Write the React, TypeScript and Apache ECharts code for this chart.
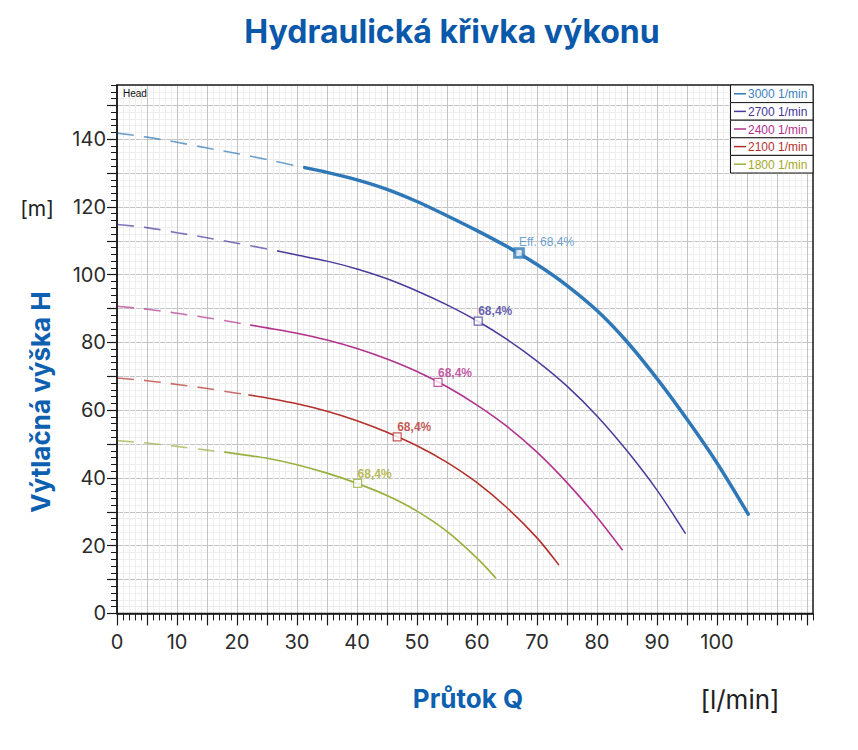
import React, { useEffect, useRef } from 'react';
import * as echarts from 'echarts';

// ---- data ----
const speedNames = ['3000 1/min', '2700 1/min', '2400 1/min', '2100 1/min', '1800 1/min'];
const speedColors = ['#2f78b7', '#4a3a9c', '#b2338c', '#b3302b', '#98b13e'];
const legendTextColors = ['#3a7fc0', '#3f3596', '#b3308e', '#b5302c', '#a6a82a'];
const lineWidths = [3.5, 1.5, 1.6, 1.6, 1.7];

const q3000 = [0, 5, 10, 15, 20, 25, 30, 31.3, 35, 40, 45, 50, 55, 60, 65, 70, 75, 80, 85, 90, 95, 100, 105.2];
const h3000 = [141.8, 140.6, 139.1, 137.4, 135.8, 134.0, 132.1, 131.6, 130.2, 128.0, 125.2, 121.6, 117.4, 113.0, 108.3, 103.0, 96.8, 89.4, 80.2, 69.3, 57.3, 44.4, 29.3];

const q2700 = [0, 5, 10, 15, 20, 25, 26.8, 30, 35, 40, 45, 50, 55, 60, 65, 70, 75, 80, 85, 90, 94.7];
const h2700 = [114.8, 113.9, 112.4, 110.9, 109.3, 107.6, 107.0, 105.8, 104.0, 101.7, 98.8, 95.2, 91.1, 86.4, 80.9, 74.5, 67.1, 58.3, 48.0, 36.4, 23.7];

const q2400 = [0, 5, 10, 15, 20, 22.3, 25, 30, 35, 40, 45, 50, 55, 60, 65, 70, 75, 80, 84.2];
const h2400 = [90.7, 89.8, 88.6, 87.3, 85.8, 85.1, 84.3, 82.7, 80.7, 78.2, 75.1, 71.4, 66.9, 61.5, 55.2, 47.6, 38.6, 28.4, 18.8];

const q2100 = [0, 5, 10, 15, 20, 22, 25, 30, 35, 40, 45, 50, 55, 60, 65, 70, 73.6];
const h2100 = [69.5, 68.7, 67.6, 66.4, 65.0, 64.5, 63.6, 61.9, 59.7, 56.9, 53.5, 49.5, 44.6, 38.6, 31.2, 22.3, 14.4];

const q1800 = [0, 5, 10, 15, 18, 20, 25, 30, 35, 40, 45, 50, 55, 60, 63.1];
const h1800 = [51.0, 50.3, 49.3, 48.2, 47.6, 47.1, 45.8, 43.9, 41.4, 38.4, 34.8, 30.2, 24.2, 16.3, 10.5];

// Q where the dashed (extrapolated) part ends
const dashEnds = [31.3, 26.8, 22.3, 22, 18];

const effQ = [67.0, 60.2, 53.5, 46.7, 40.1];
const effH = [106.4, 86.3, 68.2, 52.1, 38.4];
const effLabels = ['Eff. 68,4%', '68,4%', '68,4%', '68,4%', '68,4%'];

const xMajorTicks = [0, 5, 10, 15, 20, 25, 30, 35, 40, 45, 50, 55, 60, 65, 70, 75, 80, 85, 90, 95, 100, 105, 110, 115];
const xTickLabels = [0, 10, 20, 30, 40, 50, 60, 70, 80, 90, 100];
const yMajorTicks = [0, 10, 20, 30, 40, 50, 60, 70, 80, 90, 100, 110, 120, 130, 140, 150];
const yTickLabels = [0, 20, 40, 60, 80, 100, 120, 140];

const titleText = 'Hydraulická křivka výkonu';
const yName = 'Výtlačná výška H';
const yUnit = '[m]';
const xName = 'Průtok Q';
const xUnit = '[l/min]';
const headText = 'Head';

const curveQ = [q3000, q2700, q2400, q2100, q1800];
const curveH = [h3000, h2700, h2400, h2100, h1800];

const X_MAX = 116;
const Y_MAX = 156;

export default function App() {
  const ref = useRef<HTMLDivElement>(null);

  useEffect(() => {
    if (!ref.current) return;
    const chart = echarts.init(ref.current, null, { renderer: 'svg' });

    const gridLeft = 117;
    const gridTop = 85;
    const gridW = 696;
    const gridH = 528.4;

    const series: any[] = [];
    speedNames.forEach((name, i) => {
      const qs = curveQ[i];
      const hs = curveH[i];
      const pts = qs.map((q, k) => [q, hs[k]]);
      const dashed = pts.filter((p) => p[0] <= dashEnds[i]);
      const solid = pts.filter((p) => p[0] >= dashEnds[i]);
      series.push({
        type: 'line',
        name: name + ' dashed',
        data: dashed,
        smooth: 0.3,
        showSymbol: false,
        symbol: 'none',
        silent: true,
        z: 2,
        lineStyle: { color: speedColors[i], width: 1.6, type: [17, 10], opacity: 0.7 },
      });
      series.push({
        type: 'line',
        name: name,
        data: solid,
        smooth: 0.3,
        showSymbol: false,
        symbol: 'none',
        silent: true,
        z: 3,
        lineStyle: { color: speedColors[i], width: lineWidths[i], type: 'solid', cap: 'round' },
      });
      series.push({
        type: 'scatter',
        name: name + ' eff',
        data: [[effQ[i], effH[i]]],
        symbol: 'rect',
        symbolSize: i === 0 ? 8.5 : 8,
        silent: true,
        z: 5,
        itemStyle: {
          color: '#ffffff',
          borderColor: speedColors[i],
          borderWidth: i === 0 ? 3.2 : 1.2,
        },
        label: {
          show: true,
          formatter: effLabels[i],
          position: 'top',
          align: 'left',
          distance: -1,
          color: i === 0 ? '#4a8ac6' : legendTextColors[i],
          fontSize: 12,
          fontWeight: i === 0 ? 'normal' : 'bold',
          fontFamily: 'Liberation Sans, Arial, sans-serif',
        },
      });
    });

    const legendGraphics: any[] = [];
    const lgX = 730.5;
    const lgY = 85;
    const rowH = 17.6;
    const lgW = 82.5;
    speedNames.forEach((name, i) => {
      const y0 = lgY + i * rowH;
      legendGraphics.push({
        type: 'rect',
        silent: true,
        z: 110,
        shape: { x: lgX, y: y0, width: lgW, height: rowH },
        style: { fill: '#ffffff', stroke: '#1a1a1a', lineWidth: 1 },
      });
      legendGraphics.push({
        type: 'line',
        silent: true,
        z: 111,
        shape: { x1: lgX + 3.5, y1: y0 + rowH / 2, x2: lgX + 15.5, y2: y0 + rowH / 2 },
        style: { stroke: speedColors[i], lineWidth: 1.5 },
      });
      legendGraphics.push({
        type: 'text',
        silent: true,
        z: 111,
        x: lgX + 17.5,
        y: y0 + rowH / 2 + 0.5,
        style: {
          text: name,
          fill: legendTextColors[i],
          fontSize: 12,
          fontFamily: 'Liberation Sans, Arial, sans-serif',
          align: 'left',
          verticalAlign: 'middle',
        },
      });
    });

    const option: any = {
      animation: false,
      grid: { left: gridLeft, top: gridTop, width: gridW, height: gridH, containLabel: false },
      xAxis: [
        {
          type: 'value',
          min: 0,
          max: X_MAX,
          interval: 1,
          position: 'bottom',
          axisLine: { show: true, onZero: false, lineStyle: { color: '#1a1a1a', width: 1.5 } },
          axisTick: { show: true, length: 7, lineStyle: { color: '#1a1a1a', width: 1 } },
          axisLabel: { show: false },
          splitLine: { show: true, lineStyle: { color: '#eeeeee', width: 1 } },
        },
        {
          type: 'value',
          min: 0,
          max: X_MAX,
          interval: 5,
          position: 'bottom',
          axisLine: { show: false, onZero: false },
          axisTick: { show: true, length: 12, customValues: xMajorTicks, lineStyle: { color: '#1a1a1a', width: 1.2 } },
          axisLabel: {
            show: true,
            customValues: xTickLabels,
            formatter: (v: number) => (xTickLabels.indexOf(v) >= 0 ? String(v) : ''),
            margin: 19,
            fontSize: 20,
            color: '#2b2b2b',
            fontFamily: 'Inter, Roboto, sans-serif',
          },
          splitLine: { show: true, lineStyle: { color: '#c4c4c4', width: 1 } },
        },
      ],
      yAxis: [
        {
          type: 'value',
          min: 0,
          max: Y_MAX,
          interval: 2,
          position: 'left',
          axisLine: { show: true, onZero: false, lineStyle: { color: '#1a1a1a', width: 1.5 } },
          axisTick: { show: true, length: 6, lineStyle: { color: '#1a1a1a', width: 1 } },
          axisLabel: { show: false },
          splitLine: { show: true, lineStyle: { color: '#eeeeee', width: 1 } },
        },
        {
          type: 'value',
          min: 0,
          max: Y_MAX,
          interval: 10,
          position: 'left',
          axisLine: { show: false, onZero: false },
          axisTick: { show: true, length: 10, customValues: yMajorTicks, lineStyle: { color: '#1a1a1a', width: 1.2 } },
          axisLabel: {
            show: true,
            customValues: yTickLabels,
            formatter: (v: number) => (yTickLabels.indexOf(v) >= 0 ? String(v) : ''),
            margin: 11,
            fontSize: 20,
            color: '#2b2b2b',
            fontFamily: 'Inter, Roboto, sans-serif',
          },
          splitLine: { show: true, lineStyle: { color: '#c4c4c4', width: 1 } },
        },
      ],
      series,
      graphic: [
        {
          type: 'rect',
          silent: true,
          z: 100,
          shape: { x: gridLeft, y: gridTop, width: gridW, height: gridH },
          style: { fill: 'none', stroke: '#1a1a1a', lineWidth: 1.5 },
        },
        {
          type: 'text',
          silent: true,
          z: 100,
          x: gridLeft + 6,
          y: gridTop + 8,
          style: { text: headText, fill: '#111111', fontSize: 10, fontFamily: 'Liberation Sans, Arial, sans-serif', align: 'left', verticalAlign: 'middle' },
        },
        {
          type: 'text',
          silent: true,
          x: 452,
          y: 31,
          style: { text: titleText, fill: '#0a58a9', fontSize: 32, fontWeight: 'bold', fontFamily: 'Inter, Roboto, sans-serif', align: 'center', verticalAlign: 'middle' },
        },
        {
          type: 'text',
          silent: true,
          x: 40,
          y: 402,
          rotation: Math.PI / 2,
          style: { text: yName, fill: '#0d5fb0', fontSize: 26, fontWeight: 'bold', fontFamily: 'Inter, Roboto, sans-serif', align: 'center', verticalAlign: 'middle' },
        },
        {
          type: 'text',
          silent: true,
          x: 37,
          y: 208,
          style: { text: yUnit, fill: '#222222', fontSize: 21, fontFamily: 'Inter, Roboto, sans-serif', align: 'center', verticalAlign: 'middle' },
        },
        {
          type: 'text',
          silent: true,
          x: 468,
          y: 698,
          style: { text: xName, fill: '#0d5fb0', fontSize: 26, fontWeight: 'bold', fontFamily: 'Inter, Roboto, sans-serif', align: 'center', verticalAlign: 'middle' },
        },
        {
          type: 'text',
          silent: true,
          x: 740,
          y: 699,
          style: { text: xUnit, fill: '#222222', fontSize: 26, fontFamily: 'Inter, Roboto, sans-serif', align: 'center', verticalAlign: 'middle' },
        },
        ...legendGraphics,
      ],
    };

    chart.setOption(option);
    return () => {
      chart.dispose();
    };
  }, []);

  return (
    <div
      ref={ref}
      style={{ position: 'absolute', left: 0, top: 0, width: 858, height: 750, background: '#ffffff' }}
    />
  );
}
